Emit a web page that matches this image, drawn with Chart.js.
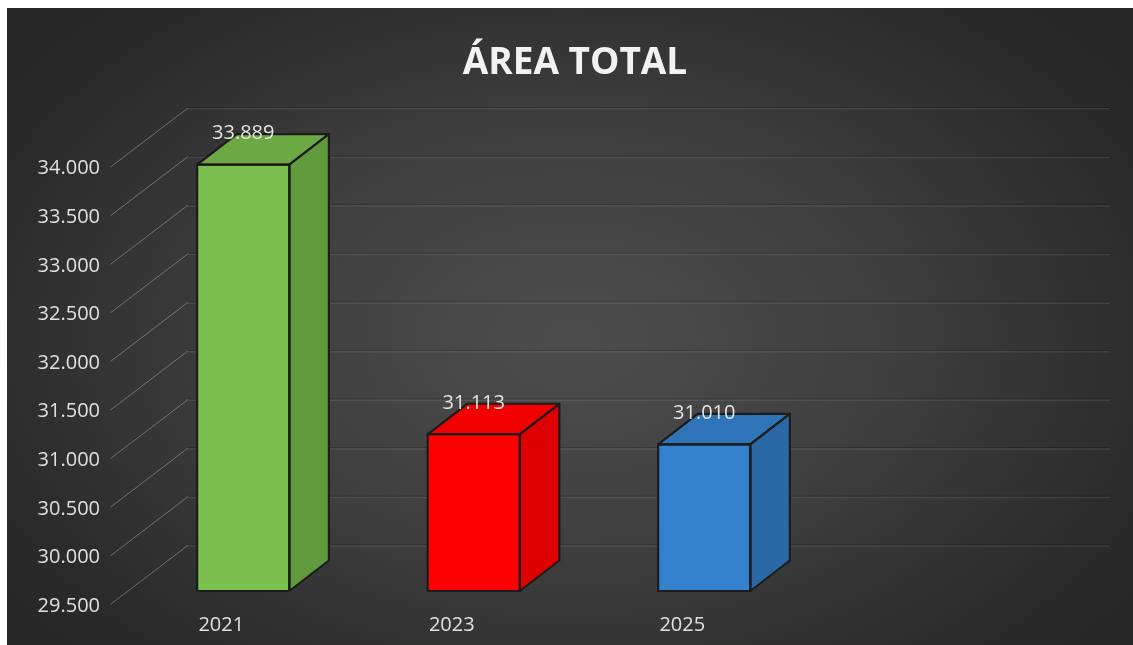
<!DOCTYPE html>
<html>
<head>
<meta charset="utf-8">
<script src="https://cdn.jsdelivr.net/npm/chart.js@4/dist/chart.umd.min.js"></script>
<style>
  html, body { margin: 0; padding: 0; background: #ffffff; }
  #wrap {
    position: absolute; left: 7px; top: 8px; width: 1126px; height: 637px;
    background: radial-gradient(ellipse 62% 72% at 50% 52%, #4d4d4d 0%, #3f3f3f 45%, #2b2b2b 85%, #272727 100%);
  }
</style>
</head>
<body>
<div id="wrap"><canvas id="c"></canvas></div>
<script>
// ---- data ----
const categories = ['2021', '2023', '2025', ''];
const values = [33889, 31113, 31010, null];
const frontColors = ['#7bbf4f', '#ff0000', '#3380cc', '#000000'];
const topColors   = ['#6ca843', '#f20000', '#2f74b9', '#000000'];
const sideColors  = ['#619a3c', '#de0000', '#2a68a6', '#000000'];
const yMin = 29500;
const yMax = 34000;
const yStep = 500;
const chartTitle = 'ÁREA TOTAL';

const fmt = n => String(n).replace(/\B(?=(\d{3})+(?!\d))/g, '.');

// depth geometry (pixels) relative to bar front plane
const BAR_DX = 39.5, BAR_DY = 30.5;     // bar depth
const BACK_DX = 60, BACK_DY = 45.75;    // back wall
const FRONT_DX = -20, FRONT_DY = 15.25; // front plane (labels)

const bar3d = {
  id: 'bar3d',
  beforeDatasetsDraw(chart) {
    const { ctx, chartArea: a, scales: { y } } = chart;
    ctx.save();
    y.ticks.forEach(t => {
      const p = y.getPixelForValue(t.value);
      // back wall gridline
      ctx.lineWidth = 1;
      ctx.strokeStyle = 'rgba(0,0,0,0.22)';
      ctx.beginPath();
      ctx.moveTo(a.left + BACK_DX, p - BACK_DY - 0.5);
      ctx.lineTo(a.right + BACK_DX, p - BACK_DY - 0.5);
      ctx.stroke();
      ctx.strokeStyle = 'rgba(255,255,255,0.09)';
      ctx.lineWidth = 1.5;
      ctx.beginPath();
      ctx.moveTo(a.left + BACK_DX, p - BACK_DY + 0.8);
      ctx.lineTo(a.right + BACK_DX, p - BACK_DY + 0.8);
      ctx.stroke();
      // side wall diagonal
      const x0 = a.left + FRONT_DX, y0 = p + FRONT_DY;
      const x1 = a.left + BACK_DX, y1 = p - BACK_DY;
      const s = 0.03;
      ctx.strokeStyle = 'rgba(200,200,200,0.42)';
      ctx.lineWidth = 1;
      ctx.beginPath();
      ctx.moveTo(x0 + (x1 - x0) * s, y0 + (y1 - y0) * s);
      ctx.lineTo(x1, y1);
      ctx.stroke();
    });
    ctx.restore();
  },
  afterDatasetsDraw(chart) {
    const { ctx, scales: { y: yScale } } = chart;
    const meta = chart.getDatasetMeta(0);
    const base = yScale.getPixelForValue(yMin);
    ctx.save();
    ctx.lineJoin = 'round';
    ctx.lineWidth = 2.2;
    ctx.strokeStyle = '#1c1c1c';
    meta.data.forEach((bar, i) => {
      if (values[i] == null) return;
      const { x, y, width } = bar.getProps(['x', 'y', 'width'], true);
      const l = x - width / 2, r = x + width / 2;
      // top face
      ctx.fillStyle = topColors[i];
      ctx.beginPath();
      ctx.moveTo(l, y);
      ctx.lineTo(r, y);
      ctx.lineTo(r + BAR_DX, y - BAR_DY);
      ctx.lineTo(l + BAR_DX, y - BAR_DY);
      ctx.closePath();
      ctx.fill();
      ctx.stroke();
      // side face
      ctx.fillStyle = sideColors[i];
      ctx.beginPath();
      ctx.moveTo(r, y);
      ctx.lineTo(r + BAR_DX, y - BAR_DY);
      ctx.lineTo(r + BAR_DX, base - BAR_DY);
      ctx.lineTo(r, base);
      ctx.closePath();
      ctx.fill();
      ctx.stroke();
      // front outline
      ctx.strokeRect(l, y, width, base - y);
    });
    // data labels
    ctx.fillStyle = '#e3e3e3';
    ctx.font = '20px "Open Sans"';
    ctx.textAlign = 'center';
    ctx.textBaseline = 'middle';
    meta.data.forEach((bar, i) => {
      if (values[i] == null) return;
      ctx.fillText(fmt(values[i]), bar.x, bar.y - 31);
    });
    ctx.restore();
  }
};

new Chart(document.getElementById('c'), {
  type: 'bar',
  data: {
    labels: categories,
    datasets: [{
      data: values,
      backgroundColor: frontColors,
      borderWidth: 0,
      categoryPercentage: 1,
      barPercentage: 0.4
    }]
  },
  options: {
    responsive: true,
    maintainAspectRatio: false,
    animation: false,
    layout: { padding: { left: 10, right: 0, top: 0, bottom: 0 } },
    plugins: {
      legend: { display: false },
      tooltip: { enabled: false },
      title: {
        display: true,
        text: chartTitle,
        color: '#f2f2f2',
        font: { family: '"Open Sans"', size: 37, weight: 'bold', lineHeight: 1.2 },
        padding: { top: 33, bottom: 68.35 }
      }
    },
    scales: {
      x: {
        grid: { display: false, drawTicks: false },
        border: { display: false },
        ticks: {
          color: '#e0e0e0',
          font: { family: '"Open Sans"', size: 20 },
          padding: 22,
          labelOffset: -22,
          maxRotation: 0
        },
        afterFit(scale) { scale.height = 54; }
      },
      y: {
        min: yMin,
        max: yMax,
        grid: { display: false, drawTicks: false },
        border: { display: false },
        ticks: {
          stepSize: yStep,
          color: '#e0e0e0',
          font: { family: '"Open Sans"', size: 20 },
          padding: 28,
          labelOffset: 15,
          callback: v => fmt(v)
        },
        afterFit(scale) { scale.width = 111; }
      },
      yRight: {
        position: 'right',
        display: true,
        min: yMin,
        max: yMax,
        grid: { display: false, drawTicks: false },
        border: { display: false },
        ticks: { display: false },
        afterFit(scale) { scale.width = 83; }
      }
    }
  },
  plugins: [bar3d]
});
</script>
</body>
</html>
